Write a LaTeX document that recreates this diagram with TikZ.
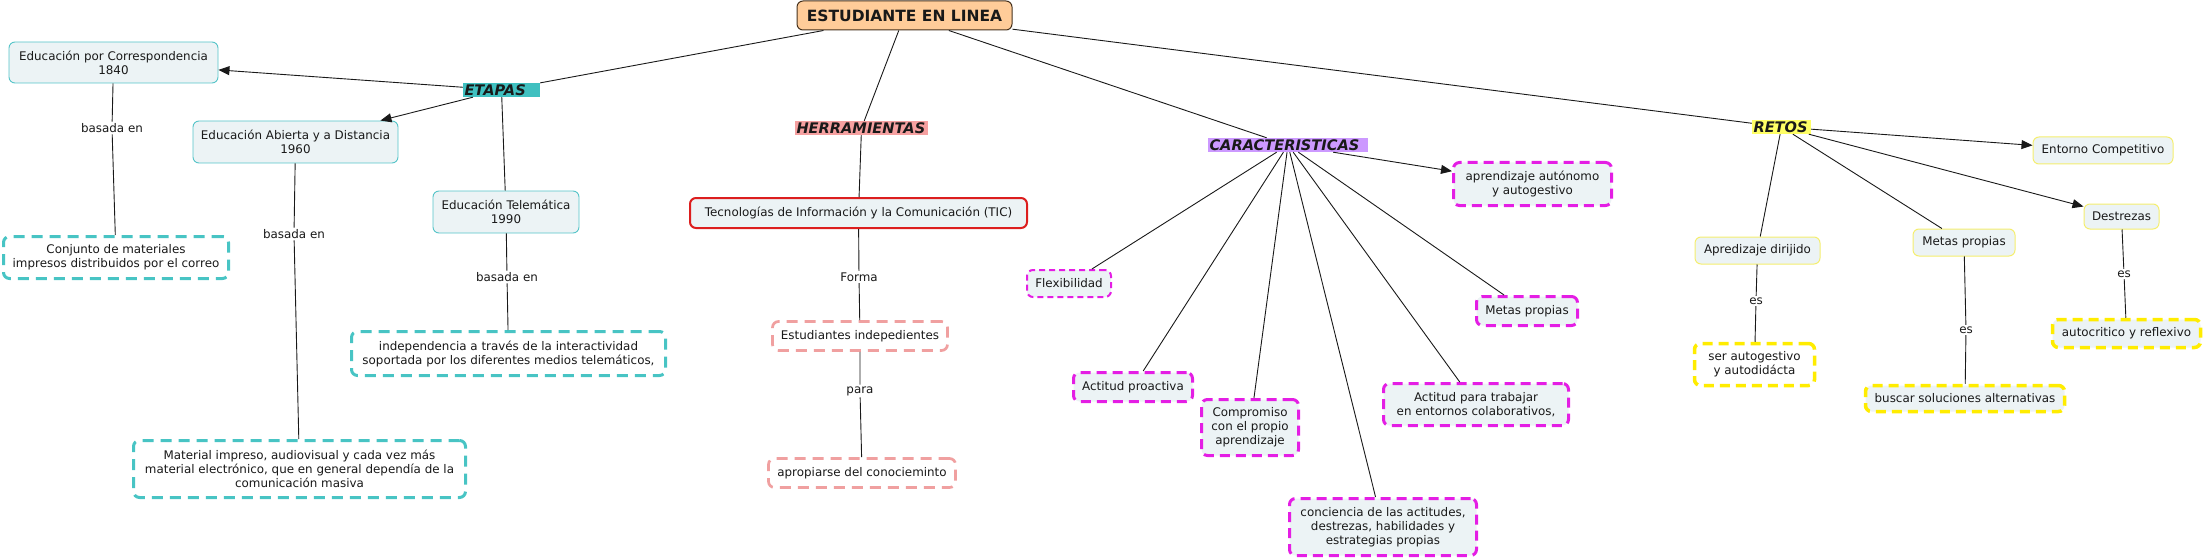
\documentclass[tikz,border=0pt]{standalone}
\usepackage{fontspec}
\setmainfont{DejaVu Sans}
\usetikzlibrary{arrows.meta}
\definecolor{txt}{RGB}{25,25,25}
\definecolor{paleF}{RGB}{236,243,245}
\definecolor{tealB}{RGB}{85,196,200}
\definecolor{tealD}{RGB}{72,196,196}
\definecolor{magD}{RGB}{228,30,228}
\definecolor{salD}{RGB}{240,160,160}
\definecolor{yelD}{RGB}{255,236,0}
\definecolor{yelB}{RGB}{245,238,110}
\definecolor{redB}{RGB}{220,30,30}
\definecolor{titleF}{RGB}{255,204,153}
\definecolor{titleB}{RGB}{70,50,30}
\definecolor{hEtapas}{RGB}{64,192,192}
\definecolor{hHerr}{RGB}{245,160,160}
\definecolor{hCar}{RGB}{204,153,255}
\definecolor{hRetos}{RGB}{255,255,102}
\newcommand\bodyf{\fontsize{11.9}{14}\selectfont}
\newcommand\headf{\fontsize{14.6}{16}\selectfont\bfseries\itshape}
\newcommand\titlef{\fontsize{15.5}{18}\selectfont\bfseries}
\begin{document}
\begin{tikzpicture}[x=1pt,y=-1pt,
  box/.style={rounded corners=6pt, align=center, inner sep=2pt, text=txt, font=\bodyf},
  sz/.style 2 args={minimum width=#1, minimum height=#2},
  tealsolid/.style={box, draw=tealB, line width=0.9pt, fill=paleF},
  tealdash/.style={box, draw=tealD, line width=3pt, dash pattern=on 11pt off 7pt, fill=white},
  magdash/.style={box, draw=magD, line width=3pt, dash pattern=on 10pt off 6pt, fill=paleF},
  magthin/.style={box, draw=magD, line width=2pt, dash pattern=on 6pt off 4pt, fill=paleF},
  saldash/.style={box, draw=salD, line width=2.7pt, dash pattern=on 11pt off 7pt, fill=white},
  yeldash/.style={box, draw=yelD, line width=3.5pt, dash pattern=on 10pt off 6pt, fill=paleF},
  yelsolid/.style={box, draw=yelB, line width=1pt, fill=paleF},
  redbox/.style={box, draw=redB, line width=2pt, fill=paleF},
  head/.style={inner xsep=1.5pt, inner ysep=0pt, minimum height=14pt, text width=#1, align=left, font=\headf, text=txt},
  lab/.style={fill=white, inner sep=1.5pt, text=txt, font=\bodyf},
  conn/.style={draw=black!90, line width=0.9pt},
  arr/.style={conn, -{Triangle[length=11pt,width=9pt]}}
]
\useasboundingbox (0,0) rectangle (2204,559);

% title and headings
\node[box, draw=titleB, fill=titleF, line width=1pt, font=\titlef, sz={215pt}{29pt}] (title) at (904.5,15.5) {ESTUDIANTE EN LINEA};
\node[head=74pt, fill=hEtapas] (etapas) at (501.5,90) {ETAPAS};
\node[head=130pt, fill=hHerr] (herr) at (861.5,128) {HERRAMIENTAS};
\node[head=157pt, fill=hCar] (car) at (1288,145) {CARACTERISTICAS};
\node[head=56pt, fill=hRetos] (retos) at (1781.5,127) {RETOS};

% ETAPAS branch
\node[tealsolid, sz={209pt}{41pt}] (corr) at (113.5,62.5) {Educación por Correspondencia\\1840};
\node[tealsolid, sz={205pt}{42pt}] (abierta) at (295.5,142) {Educación Abierta y a Distancia\\1960};
\node[tealsolid, sz={146pt}{42pt}] (tele) at (506,212) {Educación Telemática\\1990};
\node[tealdash, sz={225pt}{42pt}] (conj) at (116,257.5) {Conjunto de materiales\\impresos distribuidos por el correo};
\node[tealdash, sz={314pt}{44pt}] (indep) at (508.5,353.5) {independencia a través de la interactividad\\soportada por los diferentes medios telemáticos,};
\node[tealdash, sz={332pt}{57pt}] (material) at (299.5,469) {Material impreso, audiovisual y cada vez más\\material electrónico, que en general dependía de la\\comunicación masiva};
\node[lab] (b1) at (112,128) {basada en};
\node[lab] (b2) at (294,234) {basada en};
\node[lab] (b3) at (507,277) {basada en};

% HERRAMIENTAS branch
\node[redbox, sz={337pt}{30pt}] (tic) at (858.5,213) {Tecnologías de Información y la Comunicación (TIC)};
\node[saldash, sz={175pt}{29pt}] (estud) at (860,336) {Estudiantes indepedientes};
\node[saldash, sz={187pt}{29pt}] (aprop) at (862,473) {apropiarse del conocieminto};
\node[lab] (forma) at (859,277) {Forma};
\node[lab] (para) at (860,391) {para};

% CARACTERISTICAS branch
\node[magthin, sz={84pt}{27pt}] (flex) at (1069,283.5) {Flexibilidad};
\node[magdash, sz={119pt}{29pt}] (proact) at (1133,387) {Actitud proactiva};
\node[magdash, sz={97pt}{56pt}] (comp) at (1250,427.5) {Compromiso\\con el propio\\aprendizaje};
\node[magdash, sz={187pt}{57pt}] (conc) at (1383,527) {conciencia de las actitudes,\\destrezas, habilidades y\\estrategias propias};
\node[magdash, sz={185pt}{42pt}] (trab) at (1476,404.5) {Actitud para trabajar\\en entornos colaborativos,};
\node[magdash, sz={101pt}{29pt}] (metasM) at (1527,311) {Metas propias};
\node[magdash, sz={158pt}{43pt}] (aprend) at (1532.5,184) {aprendizaje autónomo\\y autogestivo};

% RETOS branch
\node[yelsolid, sz={140pt}{27pt}] (entorno) at (2103,150.5) {Entorno Competitivo};
\node[yelsolid, sz={75pt}{25pt}] (destr) at (2121.5,216.5) {Destrezas};
\node[yelsolid, sz={125pt}{27pt}] (apred) at (1757.5,250.5) {Apredizaje dirijido};
\node[yelsolid, sz={102pt}{27pt}] (metasY) at (1964,242.5) {Metas propias};
\node[yeldash, fill=white, sz={120pt}{42pt}] (ser) at (1754.5,364.5) {ser autogestivo\\y autodidácta};
\node[yeldash, sz={199pt}{26pt}] (buscar) at (1965,398.5) {buscar soluciones alternativas};
\node[yeldash, sz={148pt}{28pt}] (autoc) at (2126.5,333.5) {autocritico y reflexivo};
\node[lab] (es1) at (1756,301) {es};
\node[lab] (es2) at (1966,330) {es};
\node[lab] (es3) at (2124,274) {es};

% connectors
\path[conn] (title) -- (etapas);
\path[conn] (title) -- (herr);
\path[conn] (title) -- (car);
\path[conn] (title) -- (retos);

\path[arr] (etapas) -- (corr);
\path[arr] (etapas) -- (abierta);
\path[conn] (etapas) -- (tele);
\path[conn] (corr) -- (b1) -- (conj);
\path[conn] (abierta) -- (b2) -- (material);
\path[conn] (tele) -- (b3) -- (indep);

\path[conn] (herr) -- (tic);
\path[conn] (tic) -- (forma) -- (estud);
\path[conn] (estud) -- (para) -- (aprop);

\path[conn] (car) -- (flex);
\path[conn] (car) -- (proact);
\path[conn] (car) -- (comp);
\path[conn] (car) -- (conc);
\path[conn] (car) -- (trab);
\path[conn] (car) -- (metasM);
\path[arr] (car) -- (aprend);

\path[arr] (retos) -- (entorno);
\path[arr] (retos) -- (destr);
\path[conn] (retos) -- (apred);
\path[conn] (retos) -- (metasY);
\path[conn] (apred) -- (es1) -- (ser);
\path[conn] (metasY) -- (es2) -- (buscar);
\path[conn] (destr) -- (es3) -- (autoc);
\end{tikzpicture}
\end{document}
